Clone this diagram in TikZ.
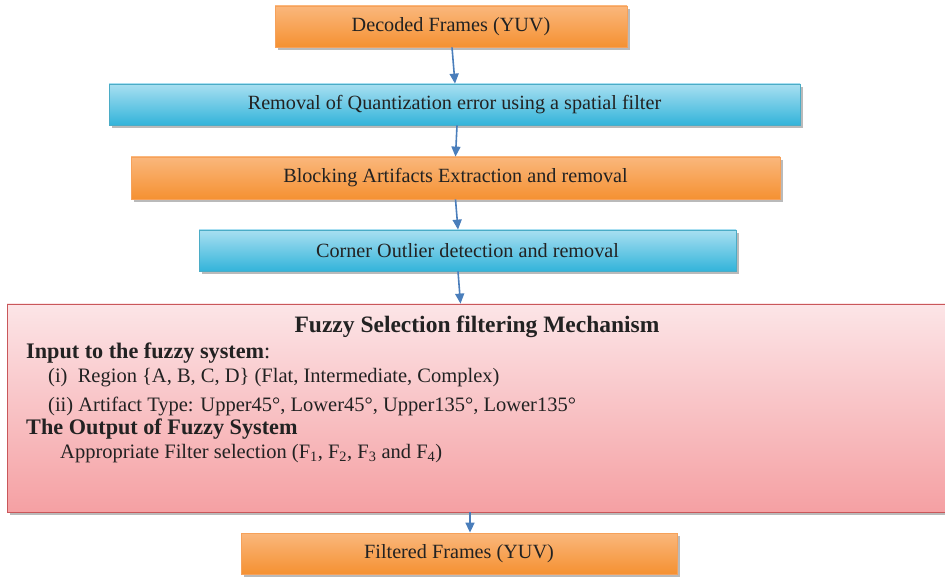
\documentclass[tikz,border=0pt]{standalone}
\usepackage{fontspec}
\setmainfont{Liberation Serif}
\usetikzlibrary{arrows.meta,shadows}
\definecolor{orT}{HTML}{FAB77C}
\definecolor{orB}{HTML}{F59132}
\definecolor{orD}{HTML}{F6A15A}
\definecolor{cyT}{HTML}{A8DFF1}
\definecolor{cyB}{HTML}{33B4DA}
\definecolor{cyD}{HTML}{4BACC6}
\definecolor{pkT}{HTML}{FCE5E7}
\definecolor{pkB}{HTML}{F5A0A3}
\definecolor{pkD}{HTML}{C9575A}
\definecolor{arr}{HTML}{4A7EBB}
\definecolor{txt}{HTML}{222222}
\tikzset{
  basebox/.style={rectangle, inner sep=0pt, text=txt, font=\fontsize{20.2}{23}\selectfont,
    line width=0.8pt,
    drop shadow={shadow xshift=2.5pt, shadow yshift=-3pt, opacity=0.45, fill=black!60}},
  orbox/.style={basebox, top color=orT, bottom color=orB, draw=orD},
  cybox/.style={basebox, top color=cyT, bottom color=cyB, draw=cyD},
  pkbox/.style={basebox, top color=pkT, bottom color=pkB, draw=pkD},
  flow/.style={draw=arr, line width=1.6pt, -{Triangle[width=9pt,length=10pt]}},
  ftext/.style={anchor=base west, inner sep=0pt, text=txt, font=\fontsize{20.5}{24}\selectfont},
  fbold/.style={ftext, font=\fontsize{22.2}{26}\selectfont\bfseries},
  ftitle/.style={ftext, anchor=base, font=\fontsize{23.5}{27}\selectfont\bfseries},
}
\begin{document}
\begin{tikzpicture}[x=1pt,y=-1pt]
\useasboundingbox (0,0) rectangle (945,577);
\clip (0,0) rectangle (945,577);
\node[orbox, minimum width=352pt, minimum height=41pt] (b1) at (451,26.5) {Decoded Frames (YUV)};
\node[cybox, minimum width=691pt, minimum height=41pt] (b2) at (454.5,104.5) {Removal of Quantization error using a spatial filter};
\node[orbox, minimum width=649pt, minimum height=42pt] (b3) at (455.5,178) {Blocking Artifacts Extraction and removal};
\node[cybox, minimum width=537pt, minimum height=41pt] (b4) at (467.5,250.5) {Corner Outlier detection and removal};
\node[pkbox, minimum width=945pt, minimum height=208pt] (b5) at (479.5,408) {};
\node[orbox, minimum width=436pt, minimum height=41pt] (b6) at (459,553.5) {Filtered Frames (YUV)};

\node[ftitle] (t0) at (477,332) {Fuzzy Selection filtering Mechanism};
\node[fbold] (t1) at (26,358) {Input to the fuzzy system\textmd{:}};
\node[ftext] (t2) at (48,382) {(i)\ \ Region \{A, B, C, D\} (Flat, Intermediate, Complex)};
\node[ftext] (t3) at (48,411) {(ii) Artifact Type: Upper45°, Lower45°, Upper135°, Lower135°};
\node[fbold] (t4) at (26,434) {The Output of Fuzzy System};
\node[ftext] (t5) at (60,458) {Appropriate Filter selection (F\textsubscript{1}, F\textsubscript{2}, F\textsubscript{3} and F\textsubscript{4})};

\draw[flow] ([xshift=1pt]b1.south) -- ([xshift=0.5pt]b2.north);
\draw[flow] ([xshift=2.5pt]b2.south) -- (b3.north);
\draw[flow] (b3.south) -- ([xshift=-9.5pt]b4.north);
\draw[flow] ([xshift=-9.5pt]b4.south) -- ([xshift=-19pt]b5.north);
\draw[flow] ([xshift=-9.5pt]b5.south) -- ([xshift=11pt]b6.north);
\end{tikzpicture}
\end{document}
